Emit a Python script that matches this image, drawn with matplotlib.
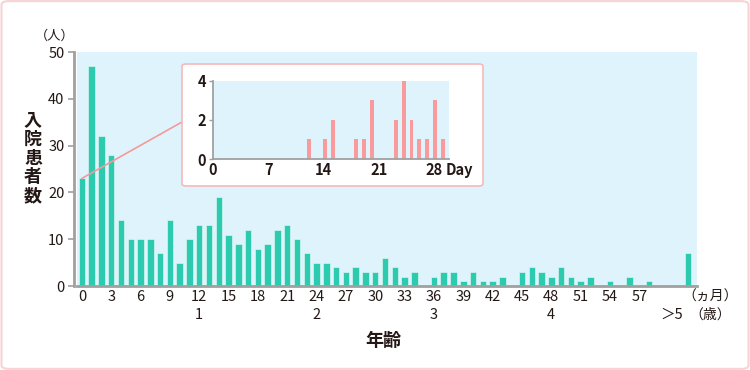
import matplotlib
matplotlib.use("Agg")
import matplotlib.pyplot as plt
from matplotlib.patches import FancyBboxPatch, ConnectionPatch

plt.rcParams['font.family'] = ['Noto Sans CJK JP', 'DejaVu Sans']

# ---- data ----
months = list(range(60))
counts = [23, 47, 32, 28, 14, 10, 10, 10, 7, 14,
          5, 10, 13, 13, 19, 11, 9, 12, 8, 9,
          12, 13, 10, 7, 5, 5, 4, 3, 4, 3,
          3, 6, 4, 2, 3, 0, 2, 3, 3, 1,
          3, 1, 1, 2, 0, 3, 4, 3, 2, 4,
          2, 1, 2, 0, 1, 0, 2, 0, 1, 0]
over5_pos = 62
over5_count = 7
month_ticks = list(range(0, 58, 3))
year_positions = [12, 24, 36, 48, 60.3]
year_labels = ['1', '2', '3', '4', '＞5']

days = [12, 14, 15, 18, 19, 20, 23, 24, 25, 26, 27, 28, 29]
day_counts = [1, 1, 2, 1, 1, 3, 2, 4, 2, 1, 1, 3, 1]
day_ticks = [0, 7, 14, 21, 28]

TEAL = '#2ccbb0'
PINK = '#f99a9d'
BG = '#dff3fd'
GRAY = '#a0a0a0'
TXT = '#231815'

W, H = 750, 370
fig = plt.figure(figsize=(7.5, 3.7), dpi=100)

# figure border
fig.patches.append(FancyBboxPatch((0.002, 0.003), 0.996, 0.994,
                                  boxstyle='round,pad=0,rounding_size=0.01',
                                  transform=fig.transFigure, fill=False,
                                  edgecolor='#f8d3d4', linewidth=1.5))

ax = fig.add_axes([77 / W, 1 - 286 / H, 620 / W, 234 / H])
ax.set_facecolor(BG)
ax.bar(months, counts, width=0.66, color=TEAL, edgecolor='#e9fbf7', linewidth=0.4, zorder=2)
ax.bar([over5_pos], [over5_count], width=0.66, color=TEAL, edgecolor='#e9fbf7', linewidth=0.4, zorder=2)
ax.set_xlim(-0.5, 62.9)
ax.set_ylim(0, 50)
ax.set_yticks(range(0, 51, 10))
ax.set_xticks(month_ticks)
ax.set_xticklabels([str(m) for m in month_ticks], fontsize=10.5, color=TXT)
ax.tick_params(axis='x', length=0, pad=3)
ax.tick_params(axis='y', length=4, width=1.2, color=GRAY, labelsize=10.5, labelcolor=TXT, pad=3)
for lab in ax.get_yticklabels():
    lab.set_fontweight('bold')
for s in ['top', 'right']:
    ax.spines[s].set_visible(False)
ax.spines['left'].set_color(GRAY)
ax.spines['left'].set_linewidth(2)
ax.spines['left'].set_position(('outward', 2))
ax.spines['bottom'].set_color(GRAY)
ax.spines['bottom'].set_linewidth(2)

# second row (years)
for p, l in zip(year_positions, year_labels):
    ax.text(p, -0.125, l, transform=ax.get_xaxis_transform(), ha='center', va='center',
            fontsize=10.5, color=TXT)
fig.text(710 / W, 1 - 297 / H, '（ヵ月）', ha='center', va='center', fontsize=10, color=TXT)
fig.text(710 / W, 1 - 315 / H, '（歳）', ha='center', va='center', fontsize=10, color=TXT)

fig.text(55 / W, 1 - 36 / H, '（人）', ha='center', va='center', fontsize=9.5, color=TXT)
fig.text(33 / W, 1 - 158 / H, '\n'.join('入院患者数'), ha='center', va='center',
         fontsize=13, fontweight='bold', color=TXT, linespacing=0.98)
fig.text(383 / W, 1 - 340 / H, '年齢', ha='center', va='center', fontsize=13,
         fontweight='bold', color=TXT)

# inset box
box = FancyBboxPatch((182 / W, 1 - 186 / H), 301 / W, 122 / H,
                     boxstyle='round,pad=0,rounding_size=0.006',
                     transform=fig.transFigure, facecolor='white',
                     edgecolor='#f6b9ba', linewidth=1.2, zorder=3)
fig.patches.append(box)

con = ConnectionPatch(xyA=(0, 23), coordsA=ax.transData,
                      xyB=(182 / W, 1 - 122 / H), coordsB=fig.transFigure,
                      color='#f59a9a', linewidth=1.2, zorder=4)
ax.add_artist(con)

ia = fig.add_axes([213 / W, 1 - 159 / H, 236 / W, 78.3 / H], zorder=5)
ia.set_facecolor(BG)
ia.bar([d + 0.15 for d in days], day_counts, width=0.5, color=PINK, zorder=2)
ia.set_xlim(0, 29.9)
ia.set_ylim(0, 4)
ia.set_yticks([0, 2, 4])
ia.set_xticks(day_ticks)
ia.tick_params(axis='x', length=0, pad=2, labelsize=10.5, labelcolor=TXT)
ia.tick_params(axis='y', length=3, width=1, color=GRAY, labelsize=10.5, labelcolor=TXT, pad=2)
for lab in ia.get_xticklabels() + ia.get_yticklabels():
    lab.set_fontweight('bold')
for s in ['top', 'right']:
    ia.spines[s].set_visible(False)
for s in ['left', 'bottom']:
    ia.spines[s].set_color(GRAY)
    ia.spines[s].set_linewidth(1.3)
ia.text(459 / W, 1 - 170 / H, 'Day', transform=fig.transFigure, ha='center', va='center',
        fontsize=10.5, fontweight='bold', color=TXT)

fig.savefig('out.png', dpi=100)
